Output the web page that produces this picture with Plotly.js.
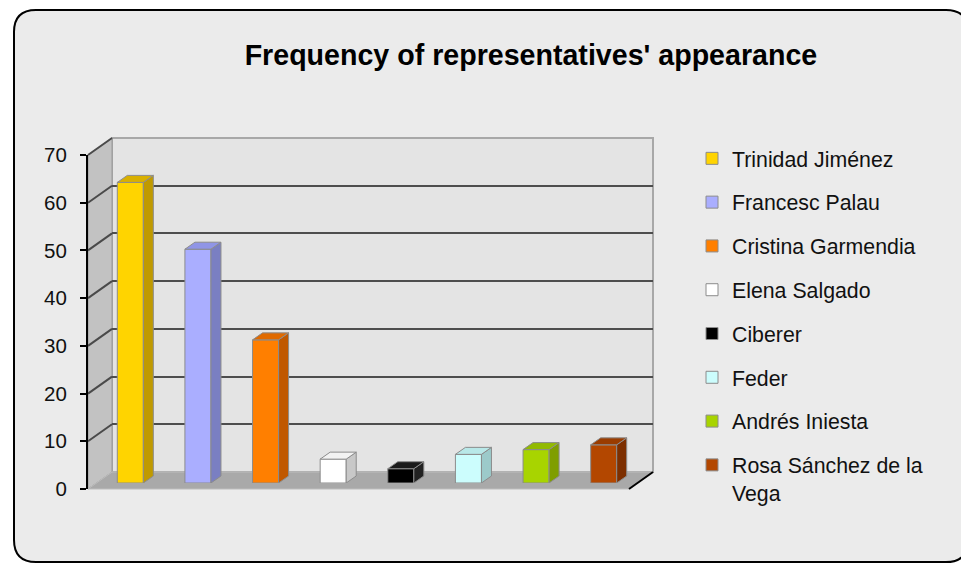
<!DOCTYPE html>
<html>
<head>
<meta charset="utf-8">
<script src="https://cdn.plot.ly/plotly-3.0.1.min.js"></script>
<style>html,body{margin:0;padding:0;background:#fff;}#chart{width:961px;height:563px;}</style>
</head>
<body>
<div id="chart"></div>
<script>
// ---- data ----
const categories = ['Trinidad Jiménez', 'Francesc Palau', 'Cristina Garmendia', 'Elena Salgado', 'Ciberer', 'Feder', 'Andrés Iniesta', 'Rosa Sánchez de la Vega'];
const legendLabels = ['Trinidad Jiménez', 'Francesc Palau', 'Cristina Garmendia', 'Elena Salgado', 'Ciberer', 'Feder', 'Andrés Iniesta', 'Rosa Sánchez de la<br>Vega'];
const values = [63, 49, 30, 5, 3, 6, 7, 8];
const frontColors = ['#ffd400', '#aaaeff', '#ff7f00', '#ffffff', '#000000', '#ccfdfd', '#a8d400', '#b34700'];
const topColors   = ['#d9b000', '#9095e6', '#e06a00', '#f2f2f2', '#1a1a1a', '#b8e8e8', '#92ba00', '#9a3c00'];
const sideColors  = ['#c09a00', '#7a7fc2', '#c05800', '#c8c8c8', '#222222', '#9ccaca', '#7f9e00', '#7d2f00'];
const yTicks = [0, 10, 20, 30, 40, 50, 60, 70];
const yTickText = ['0', '10', '20', '30', '40', '50', '60', '70'];

// ---- geometry (pixels) ----
const ML = 88, MR = 308, MT = 138, MB = 74, FW = 961, FH = 563;
const PW = FW - ML - MR, PH = FH - MT - MB;       // plot area 565 x 351
const DEPTH_X = 24, DEPTH_Y = 17;                 // wall depth offset
const BAR_OFF_X = 8.5, BAR_OFF_Y = 6;             // bar plane offset
const BAR_DX_PX = 10, BAR_DY_PX = 7;              // bar depth
const YMAX = 70;
const frontW = PW - DEPTH_X, frontH = PH - DEPTH_Y;
const pxPerUnit = frontH / YMAX;
const catPx = frontW / categories.length;
const BAR_W = 0.385;
const dxCat = BAR_DX_PX / catPx, dyVal = BAR_DY_PX / pxPerUnit;

const px = x => (x - ML) / PW;
const py = y => (FH - MB - y) / PH;
const frontX0 = ML, frontX1 = ML + frontW, backX0 = ML + DEPTH_X, backX1 = ML + PW;
const frontY = v => FH - MB - v * pxPerUnit;
const backY = v => FH - MB - DEPTH_Y - v * pxPerUnit;

function path(pts) {
  return 'M' + pts.map(p => px(p[0]) + ',' + py(p[1])).join('L') + 'Z';
}

// ---- traces ----
const traces = [];
traces.push({type: 'scatter', x: [], y: [], xaxis: 'x', yaxis: 'y', showlegend: false, hoverinfo: 'skip'});
traces.push({type: 'scatter', x: [], y: [], xaxis: 'x2', yaxis: 'y2', showlegend: false, hoverinfo: 'skip'});
categories.forEach((c, i) => {
  const v = values[i];
  traces.push({
    type: 'bar', x: [i], y: [v], width: BAR_W, xaxis: 'x3', yaxis: 'y3',
    name: legendLabels[i], legendgroup: 'g' + i,
    marker: {color: frontColors[i], line: {color: '#8c8c8c', width: 1}},
    hovertemplate: c + ': %{y}<extra></extra>'
  });
});
categories.forEach((c, i) => {
  const v = values[i], l = i - BAR_W / 2, r = i + BAR_W / 2;
  traces.push({
    type: 'scatter', mode: 'lines', xaxis: 'x3', yaxis: 'y3', showlegend: false, legendgroup: 'g' + i, hoverinfo: 'skip',
    x: [r, r + dxCat, r + dxCat, r, r], y: [0, dyVal, v + dyVal, v, 0],
    fill: 'toself', fillcolor: sideColors[i], line: {color: '#8c8c8c', width: 1}
  });
  traces.push({
    type: 'scatter', mode: 'lines', xaxis: 'x3', yaxis: 'y3', showlegend: false, legendgroup: 'g' + i, hoverinfo: 'skip',
    x: [l, l + dxCat, r + dxCat, r, l], y: [v, v + dyVal, v + dyVal, v, v],
    fill: 'toself', fillcolor: topColors[i], line: {color: '#8c8c8c', width: 1}
  });
});

// ---- decoration shapes ----
const cL = 14, cT = 10, cR = 968, cB = 562, rad = 22;
const cardPath = 'M' + px(cL + rad) + ',' + py(cT) +
  'L' + px(cR - rad) + ',' + py(cT) + 'Q' + px(cR) + ',' + py(cT) + ' ' + px(cR) + ',' + py(cT + rad) +
  'L' + px(cR) + ',' + py(cB - rad) + 'Q' + px(cR) + ',' + py(cB) + ' ' + px(cR - rad) + ',' + py(cB) +
  'L' + px(cL + rad) + ',' + py(cB) + 'Q' + px(cL) + ',' + py(cB) + ' ' + px(cL) + ',' + py(cB - rad) +
  'L' + px(cL) + ',' + py(cT + rad) + 'Q' + px(cL) + ',' + py(cT) + ' ' + px(cL + rad) + ',' + py(cT) + 'Z';

const shapes = [
  {type: 'path', xref: 'paper', yref: 'paper', layer: 'below', path: cardPath, fillcolor: '#ebebeb', line: {color: '#000', width: 2}},
  {type: 'path', xref: 'paper', yref: 'paper', layer: 'below',
   path: path([[backX0, backY(0)], [backX0, backY(YMAX)], [backX1, backY(YMAX)], [backX1, backY(0)]]),
   fillcolor: '#e4e4e4', line: {color: '#a8a8a8', width: 2}},
  {type: 'path', xref: 'paper', yref: 'paper', layer: 'below',
   path: path([[frontX0, frontY(0)], [frontX0, frontY(YMAX)], [backX0, backY(YMAX)], [backX0, backY(0)]]),
   fillcolor: '#c2c2c2', line: {color: '#9a9a9a', width: 1}},
  {type: 'path', xref: 'paper', yref: 'paper', layer: 'below',
   path: path([[frontX0, frontY(0)], [frontX1, frontY(0)], [backX1, backY(0)], [backX0, backY(0)]]),
   fillcolor: '#a9a9a9', line: {color: '#bdbdbd', width: 1}}
];
yTicks.filter(v => v > 0).forEach(v => {
  shapes.push({type: 'line', xref: 'paper', yref: 'paper', layer: 'below',
    x0: px(frontX0), y0: py(frontY(v)), x1: px(backX0), y1: py(backY(v)),
    line: {color: '#4a4a4a', width: 2}});
});
shapes.push({type: 'line', xref: 'paper', yref: 'paper', layer: 'above',
  x0: px(frontX1), y0: py(frontY(0)), x1: px(backX1), y1: py(backY(0)), line: {color: '#000', width: 2}});

const font = 'Liberation Sans, Arial, Helvetica, sans-serif';
const layout = {
  width: FW, height: FH, autosize: false,
  margin: {l: ML, r: MR, t: MT, b: MB, pad: 0},
  paper_bgcolor: '#ffffff', plot_bgcolor: 'rgba(0,0,0,0)',
  barmode: 'overlay',
  font: {family: font, color: '#111'},
  title: {text: "Frequency of representatives' appearance", font: {family: font, size: 28.6, color: '#000', weight: 'bold'},
          xref: 'container', yref: 'container', x: 0.5525, xanchor: 'center', y: 1 - 55 / FH, yanchor: 'middle'},
  xaxis: {domain: [DEPTH_X / PW, 1], range: [0, 1], visible: false, anchor: 'y', fixedrange: true},
  yaxis: {domain: [DEPTH_Y / PH, 1], range: [0, YMAX], anchor: 'x', tickvals: yTicks.filter(v => v > 0),
          showticklabels: false, ticks: '', showgrid: true, gridcolor: '#4d4d4d', gridwidth: 2,
          zeroline: false, showline: false, fixedrange: true},
  xaxis2: {domain: [0, frontW / PW], range: [0, 1], visible: false, anchor: 'y2', fixedrange: true},
  yaxis2: {domain: [0, frontH / PH], range: [0, YMAX], anchor: 'x2', tickvals: yTicks, ticktext: yTickText,
           ticks: 'outside', ticklen: 6, tickwidth: 2, tickcolor: '#000', showline: true, linecolor: '#000', linewidth: 2,
           ticklabelstandoff: 9,
           showgrid: false, zeroline: false, tickfont: {family: font, size: 20.5, color: '#111'}, fixedrange: true},
  xaxis3: {domain: [BAR_OFF_X / PW, (BAR_OFF_X + frontW) / PW], range: [-0.5, categories.length - 0.5], visible: false, anchor: 'y3', fixedrange: true},
  yaxis3: {domain: [BAR_OFF_Y / PH, (BAR_OFF_Y + frontH) / PH], range: [0, YMAX], visible: false, anchor: 'x3', fixedrange: true},
  legend: {x: px(692), xanchor: 'left', y: py(138), yanchor: 'top', bgcolor: 'rgba(0,0,0,0)', valign: 'top',
           maxheight: 600,
           font: {family: font, size: 21.3, color: '#111'}, tracegroupgap: 13.1, traceorder: 'grouped'},
  shapes: shapes,
  showlegend: true
};

Plotly.newPlot('chart', traces, layout, {displayModeBar: false, staticPlot: true});
</script>
</body>
</html>
